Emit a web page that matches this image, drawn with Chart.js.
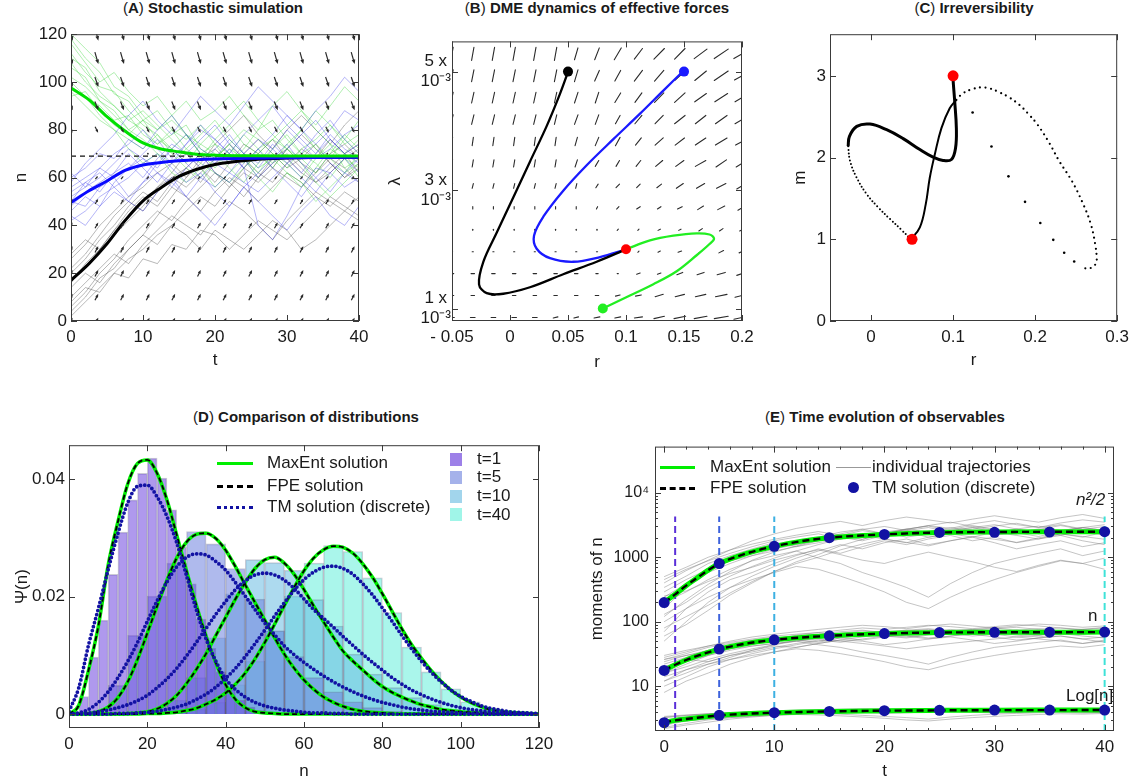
<!DOCTYPE html>
<html>
<head>
<meta charset="utf-8">
<script src="https://cdn.jsdelivr.net/npm/chart.js@4.4.1/dist/chart.umd.min.js"></script>
<style>
  body { margin: 0; background: #fff; font-family: "Liberation Sans", Arial, sans-serif; color: #1a1a1a; }
  #page { position: relative; width: 1135px; height: 782px; overflow: hidden; }
  canvas { position: absolute; }
  .title { position: absolute; font-size: 15px; line-height: 18px; font-weight: bold; white-space: nowrap; transform: translateX(-50%); }
  .title span { font-weight: normal; }
  .lbl { position: absolute; font-size: 17px; line-height: 20px; white-space: nowrap; }
  .key { position: absolute; height: 0; }
  .swatch { position: absolute; width: 12px; height: 13px; }
  .dot { position: absolute; width: 11px; height: 11px; border-radius: 50%; background: #1212a3; }
</style>
</head>
<body>
<div id="page">
  <canvas id="chartA" width="380" height="362" style="left:0;top:20px"></canvas>
  <canvas id="chartB" width="380" height="362" style="left:380px;top:20px"></canvas>
  <canvas id="chartC" width="375" height="362" style="left:760px;top:20px"></canvas>
  <canvas id="chartD" width="560" height="351" style="left:0;top:431px"></canvas>
  <canvas id="chartE" width="575" height="351" style="left:560px;top:431px"></canvas>

  <div class="title" style="left:213px;top:-1px"><span>(</span>A<span>)</span> Stochastic simulation</div>
  <div class="title" style="left:597px;top:-1px"><span>(</span>B<span>)</span> DME dynamics of effective forces</div>
  <div class="title" style="left:974px;top:-1px"><span>(</span>C<span>)</span> Irreversibility</div>
  <div class="title" style="left:306px;top:408px"><span>(</span>D<span>)</span> Comparison of distributions</div>
  <div class="title" style="left:885px;top:408px"><span>(</span>E<span>)</span> Time evolution of observables</div>

  <!-- legend D -->
  <div class="key" style="left:217px;top:462px;width:36px;border-top:3px solid #00ee00"></div>
  <div class="key" style="left:217px;top:485px;width:36px;border-top:3px dashed #000"></div>
  <div class="key" style="left:217px;top:506px;width:36px;border-top:3px dotted #1212a3"></div>
  <div class="lbl" style="left:267px;top:453px">MaxEnt solution</div>
  <div class="lbl" style="left:267px;top:476px">FPE solution</div>
  <div class="lbl" style="left:267px;top:497px">TM solution (discrete)</div>
  <div class="swatch" style="left:450px;top:453px;background:#9d80e8"></div>
  <div class="swatch" style="left:450px;top:471px;background:#a5b2ea"></div>
  <div class="swatch" style="left:450px;top:490px;background:#a2d5ec"></div>
  <div class="swatch" style="left:450px;top:508px;background:#a0f5e8"></div>
  <div class="lbl" style="left:477px;top:449px">t=1</div>
  <div class="lbl" style="left:477px;top:467px">t=5</div>
  <div class="lbl" style="left:477px;top:486px">t=10</div>
  <div class="lbl" style="left:477px;top:505px">t=40</div>

  <!-- legend E -->
  <div class="key" style="left:660px;top:466px;width:35px;border-top:3px solid #00ee00"></div>
  <div class="key" style="left:660px;top:487px;width:35px;border-top:3px dashed #000"></div>
  <div class="key" style="left:836px;top:467px;width:35px;border-top:1px solid #999"></div>
  <div class="dot" style="left:848px;top:482px"></div>
  <div class="lbl" style="left:710px;top:457px">MaxEnt solution</div>
  <div class="lbl" style="left:710px;top:478px">FPE solution</div>
  <div class="lbl" style="left:872px;top:457px">individual trajectories</div>
  <div class="lbl" style="left:872px;top:478px">TM solution (discrete)</div>
  <div class="lbl" style="left:1076px;top:490px;font-style:italic">n²/2</div>
  <div class="lbl" style="left:1088px;top:606px">n</div>
  <div class="lbl" style="left:1066px;top:686px">Log[n]</div>
</div>

<script>
// ---------- (A) stochastic simulation ----------
const runTimes = [0,2,4,6,8,10,12,14,16,18,20,22,24,26,28,30,32,34,36,38,40];
const meanTimes = [0,2.5,5,7.5,10,12.5,15,17.5,20,25,30,35,40];
const meanGreen = [97.5,92.5,85.5,79.5,74.5,72,70.8,69.8,69.4,69.1,69,69,69];
const meanBlue = [49.6,54.5,58.6,63,65.3,66.3,67,67.5,67.8,68.1,68.3,68.4,68.5];
const meanBlack = [17,24,32.3,42,50.3,55.8,60.5,63.5,65.5,67.4,68.2,68.4,68.5];
const nStationary = 69;

const greenRuns = [
  [118,110,104,95,92,84,88,80,76,82,74,70,78,72,66,74,80,72,68,76,70],
  [106,102,92,88,80,84,76,72,78,70,64,72,68,62,70,66,60,68,74,64,68],
  [98,94,90,84,86,78,74,80,72,68,76,82,74,70,64,72,68,62,70,78,72],
  [112,104,98,96,88,82,78,72,66,74,70,64,58,66,72,78,70,66,60,68,64],
  [96,90,84,80,76,72,78,70,64,60,68,74,80,76,70,64,72,76,82,74,78],
  [120,114,108,98,94,86,80,84,78,70,74,66,72,80,84,76,70,74,68,62,70],
  [102,98,92,86,80,76,70,66,72,78,84,76,70,64,68,62,56,64,72,68,60],
  [110,106,96,90,84,80,74,78,82,72,68,74,66,72,76,82,88,80,74,70,76],
  [116,108,100,104,96,90,94,86,92,84,88,94,86,80,90,96,88,82,90,98,92],
  [100,94,86,80,72,66,70,62,58,64,56,62,68,60,54,62,58,50,56,62,66],
  [108,100,94,90,84,88,82,76,70,66,62,58,64,70,76,72,66,58,52,58,64],
  [94,96,88,82,78,84,80,86,78,74,80,86,92,84,78,72,80,88,82,76,84]
];
const blueRuns = [
  [48,54,58,62,66,60,68,74,70,64,72,78,70,66,74,68,62,70,76,70,66],
  [56,60,64,70,74,80,72,66,70,76,82,74,68,60,66,72,78,84,76,70,74],
  [42,46,52,56,50,58,62,56,64,70,62,58,66,72,64,58,52,60,66,62,68],
  [60,64,70,68,76,72,80,86,78,72,68,76,70,64,72,80,74,68,72,78,82],
  [50,48,56,60,64,68,62,58,52,60,66,72,64,40,34,44,56,64,62,56,60],
  [46,52,48,58,64,70,76,68,74,80,76,70,78,84,90,82,76,70,78,72,68],
  [54,58,62,56,60,66,70,64,58,62,54,48,56,62,68,74,66,60,54,62,58],
  [52,56,60,66,72,68,64,72,78,70,66,62,70,76,72,66,70,78,84,76,70],
  [58,66,72,78,86,92,84,78,86,94,88,82,90,98,92,86,80,88,94,102,96],
  [44,40,48,54,50,46,54,60,52,46,40,48,56,50,44,38,46,52,44,40,48],
  [50,58,54,62,70,64,58,66,74,82,76,70,64,72,78,86,80,74,80,88,84],
  [62,56,64,60,52,58,66,72,66,60,56,62,58,54,60,66,60,54,62,68,62]
];
const blackRuns = [
  [16,24,30,38,44,50,56,60,64,58,66,70,64,60,68,72,66,62,70,74,68],
  [6,12,20,26,34,40,46,42,50,56,62,58,52,60,66,70,64,58,62,68,72],
  [26,32,40,46,52,56,62,66,60,68,72,66,70,76,70,64,68,74,66,60,64],
  [10,16,22,28,24,32,38,44,40,36,44,50,46,40,34,42,48,54,50,46,52],
  [20,26,34,40,48,54,50,58,64,70,62,56,64,70,76,68,62,58,64,70,62],
  [2,8,14,20,26,30,36,40,46,52,48,56,62,58,64,60,56,62,68,64,58],
  [14,20,16,24,30,36,32,40,36,30,38,34,30,36,42,38,30,34,40,46,42],
  [22,28,36,44,50,46,54,60,56,62,68,74,68,62,58,66,72,68,76,70,74],
  [4,10,18,22,30,36,44,52,60,66,74,80,86,78,72,80,86,80,74,82,88],
  [28,34,30,38,46,52,48,56,52,46,54,60,56,50,56,62,58,52,48,54,50],
  [8,14,12,20,18,26,24,32,30,38,36,30,36,42,38,34,40,46,52,48,44],
  [18,22,30,36,42,48,56,62,70,64,58,66,74,70,64,72,78,72,66,60,66]
];
// drift arrows: one column per t, one row per n (arrow size read per row)
const arrowColsA = [0,3.56,7.12,10.68,14.24,17.8,21.36,24.92,28.48,32.04,35.6,39.16];
const arrowRowsA = [0,10,20,30,40,50,60,70,80,90,100,110,120];
const arrowDtA = [0.45,0.45,0.45,0.45,0.45,0.42,0.35,0.14,0.42,0.48,0.48,0.48,0.48];
const arrowDnA = [2.7,2.7,2.7,2.6,2.4,2.1,1.3,-0.2,-2.5,-3.7,-4.2,-5.0,-5.4];

// ---------- (B) effective forces ----------
const blackPathR = [0.0503,0.043,0.0316,0.0172,0.0029,-0.0115,-0.023,-0.0267,-0.0201,-0.0058,0.0172,0.0459,0.0747,0.1];
const blackPathL = [0.00501,0.00462,0.00408,0.00348,0.00288,0.00228,0.00179,0.00141,0.00126,0.00125,0.00136,0.00158,0.00179,0.002];
const bluePathR = [0.1494,0.1322,0.1121,0.0891,0.0661,0.0459,0.0287,0.0207,0.023,0.0345,0.0546,0.0776,0.1];
const bluePathL = [0.00501,0.00468,0.00429,0.00386,0.00342,0.00299,0.00255,0.00223,0.00201,0.00185,0.00179,0.00187,0.002];
const greenPathR = [0.08,0.1034,0.1236,0.1437,0.1609,0.172,0.1759,0.172,0.1609,0.1408,0.1207,0.1];
const greenPathL = [0.001,0.00122,0.00141,0.00163,0.0019,0.00209,0.00218,0.00225,0.00227,0.00223,0.00215,0.002];
const startR = [0.05,0.15,0.08];
const startL = [0.005,0.005,0.001];
const fixedR = [0.1];
const fixedL = [0.002];
// force field: components in units of 0.001 (r) and 0.00002 (lambda), rows bottom to top
const fieldColsB = [-0.05,-0.0321,-0.0143,0.0036,0.0214,0.0393,0.0571,0.075,0.0929,0.1107,0.1286,0.1464,0.1643,0.1821,0.2];
const fieldRowsB = [0.00085,0.00122,0.00159,0.00196,0.00233,0.0027,0.00307,0.00345,0.00382,0.00419,0.00456,0.00493,0.0053];
const fieldDrB = [
  [4,4,4,4,4,4,4,5,5,7,9,10,11,12,14],
  [3,3,3,3,3,3,3,3,4,5,7,8,9,10,12],
  [3,3,3,3,3,3,3,2,1,3,3,5,6,7,9],
  [1,1,1,1,1,1,1,1,1,1,2,3,3,4,5],
  [0,0,0,0,0,0,0,0,1,1,2,2,3,3,4],
  [0,0,0,0,0,0,0,1,2,3,3,4,5,6,7],
  [1,1,1,1,1,1,1,2,3,3,4,6,7,8,9],
  [1,1,1,1,1,1,2,3,3,4,6,7,9,9,10],
  [1,1,1,1,1,1,2,3,4,5,7,8,9,10,11],
  [2,2,2,2,2,2,3,3,4,6,7,9,9,10,12],
  [2,2,2,2,2,2,3,3,5,6,8,9,10,11,12],
  [2,2,2,2,2,2,3,4,5,7,8,9,10,12,13],
  [2,2,2,2,2,2,3,4,6,7,9,9,11,12,14]
];
const fieldDlB = [
  [0,0,0,0,0,1,1,1,1,1,2,2,2,2,3],
  [0,0,0,0,0,0,0,0,1,1,2,2,2,2,3],
  [0,0,0,0,0,0,0,0,0,1,1,2,2,2,3],
  [0,0,0,0,0,0,0,0,0,1,1,1,2,2,2],
  [1,1,1,1,1,1,1,1,1,1,1,1,2,2,2],
  [2,2,2,2,2,2,2,2,2,2,2,2,3,3,4],
  [4,4,4,4,4,4,4,3,3,3,3,4,4,4,5],
  [6,6,6,6,6,6,6,5,5,5,5,5,5,6,6],
  [7,7,7,7,7,7,7,7,7,6,6,6,6,6,6],
  [8,8,8,8,8,8,8,8,7,7,7,7,7,7,7],
  [9,9,9,9,9,9,9,9,8,8,8,8,7,7,7],
  [10,10,10,10,10,10,10,9,9,9,9,8,8,8,7],
  [11,11,11,11,11,11,10,10,10,9,9,9,8,8,8]
];
const fieldUnitR = 0.001, fieldUnitL = 0.00002;

// ---------- (C) irreversibility ----------
const fwdSolidR = [0.0485,0.0595,0.0667,0.0716,0.0777,0.0858,0.0959,0.104];
const fwdSolidM = [1.0,1.146,1.43,1.753,2.038,2.361,2.604,2.706];
const fwdLoopR = [0.104,0.112,0.1242,0.1343,0.1444,0.1566,0.1687,0.1808,0.1909,0.203,0.2172,0.2294,0.2448,0.2577,0.2678,0.2731,0.2751,0.2739,0.2698,0.264,0.2569];
const fwdLoopM = [2.706,2.786,2.84,2.859,2.847,2.798,2.734,2.645,2.543,2.402,2.179,1.956,1.713,1.45,1.187,0.944,0.762,0.701,0.66,0.64,0.66];
const fwdSparseR = [0.2476,0.2354,0.2221,0.2063,0.1877,0.1675,0.1468,0.1238];
const fwdSparseM = [0.729,0.835,0.993,1.199,1.458,1.77,2.135,2.552];
const backSolidR = [0.1,0.1,0.102,0.104,0.103,0.098,0.0878,0.0756,0.0595,0.0392,0.019,-0.0012,-0.0174,-0.0263,-0.0279];
const backSolidM = [3.0,2.95,2.685,2.36,2.118,1.977,1.965,2.005,2.098,2.232,2.341,2.41,2.382,2.26,2.139];
const backDotR = [-0.0279,-0.0255,-0.0174,-0.0052,0.0089,0.0231,0.0372,0.0485];
const backDotM = [2.139,1.956,1.753,1.552,1.389,1.248,1.114,1.0];
const endR = [0.05,0.1];
const endM = [1,3];

// ---------- (D) distributions ----------
const densityN = [0,2.5,5,7.5,10,12.5,15,17.5,20,22.5,25,27.5,30,32.5,35,37.5,40,42.5,45,47.5,50,52.5,55,57.5,60,62.5,65,67.5,70,72.5,75,77.5,80,82.5,85,87.5,90,92.5,95,97.5,100,102.5,105,107.5,110,112.5,115,117.5,120];
const fpeT1 = [0,0.0015,0.0075,0.015,0.0254,0.0328,0.0392,0.0427,0.0433,0.041,0.0365,0.0305,0.0244,0.0186,0.0133,0.0087,0.005,0.0025,0.0011,0.0004,0.0002,0.0001,
  0,0,0,0,0,0,0,0,0,0,0,0,0,0,0,0,0,0,0,0,0,0,0,0,0,0,0];
const fpeT5 = [0,0,0.0001,0.0004,0.0012,0.0028,0.0055,0.0093,0.0138,0.0184,0.0228,0.0266,0.0293,0.0306,0.0308,0.0299,0.0279,0.0251,0.022,0.019,0.016,0.013,0.0102,0.0078,0.0058,0.0042,0.0029,0.002,0.0013,0.0008,0.0005,0.0003,0.0002,0.0001,
  0,0,0,0,0,0,0,0,0,0,0,0,0,0,0];
const fpeT10 = [0,0,0,0,0,0,0.0001,0.0002,0.0004,0.0009,0.0018,0.0032,0.0052,0.0076,0.0103,0.0134,0.0165,0.0196,0.0224,0.0248,0.0263,0.0267,0.0257,0.0238,0.0212,0.0184,0.0157,0.0131,0.0107,0.009,0.0075,0.006,0.0047,0.0037,0.0029,0.0022,0.0016,0.0012,0.0008,0.0006,0.0004,0.0003,0.0002,0.0001,
  0,0,0,0,0];
const fpeT40 = [0,0,0,0,0,0,0,0,0.0001,0.0001,0.0002,0.0003,0.0006,0.001,0.0017,0.0025,0.0036,0.0051,0.007,0.0094,0.0122,0.0153,0.0185,0.0216,0.0244,0.0266,0.028,0.0286,0.0284,0.0274,0.0256,0.0233,0.0205,0.0175,0.0145,0.0118,0.0095,0.0074,0.0056,0.0041,0.0029,0.002,0.0013,0.0008,0.0005,0.0003,0.0002,0.0001,0];
const tmT1 = [0.0005,0.0045,0.0118,0.018,0.0246,0.0308,0.036,0.0388,0.039,0.037,0.0337,0.0292,0.0236,0.0178,0.0128,0.009,0.006,0.0042,0.0029,0.002,0.0014,0.001,0.0007,0.0005,0.0003,0.0002,0.0002,0.0001,0.0001,
  0,0,0,0,0,0,0,0,0,0,0,0,0,0,0,0,0,0,0,0];
const tmT5 = [0,0.0002,0.0008,0.002,0.0038,0.0062,0.009,0.0122,0.0158,0.0193,0.0225,0.0251,0.0267,0.0273,0.0271,0.026,0.0245,0.0224,0.0201,0.0178,0.0155,0.0135,0.0116,0.0101,0.0088,0.0076,0.0065,0.0055,0.0046,0.0038,0.0031,0.0025,0.002,0.0016,0.0012,0.0009,0.0007,0.0005,0.0004,0.0003,0.0002,0.0001,0.0001,
  0,0,0,0,0,0];
const tmT10 = [0,0.0001,0.0002,0.0004,0.0007,0.0011,0.0016,0.0023,0.0032,0.0045,0.006,0.0078,0.0099,0.0122,0.0146,0.017,0.0192,0.0212,0.0227,0.0237,0.024,0.0237,0.0228,0.0214,0.0196,0.0178,0.0163,0.0148,0.0132,0.0117,0.0102,0.0088,0.0075,0.0062,0.0051,0.0041,0.0033,0.0026,0.002,0.0015,0.0011,0.0008,0.0006,0.0004,0.0003,0.0002,0.0001,0.0001,0];
const tmT40 = [0,0,0,0,0,0.0001,0.0001,0.0002,0.0003,0.0005,0.0008,0.0012,0.0017,0.0025,0.0034,0.0046,0.0061,0.0078,0.0098,0.012,0.0143,0.0167,0.019,0.0211,0.0229,0.0242,0.025,0.0252,0.0248,0.0238,0.0222,0.0203,0.0181,0.0158,0.0134,0.0111,0.009,0.0071,0.0055,0.0041,0.003,0.0022,0.0015,0.001,0.0007,0.0004,0.0003,0.0002,0.0001];
const histBinsFine = [1.25,3.75,6.25,8.75,11.25,13.75,16.25,18.75,21.25,23.75,26.25,28.75,31.25,33.75,36.25,38.75,41.25,43.75,46.25,48.75,51.25,53.75];
const histT1 = [0.0004,0.003,0.0097,0.016,0.0238,0.031,0.0365,0.041,0.0436,0.0402,0.0348,0.0285,0.0222,0.0162,0.0112,0.0072,0.0042,0.0024,0.0012,0.0006,0.0003,0.0001];
const histBins = [2.5,7.5,12.5,17.5,22.5,27.5,32.5,37.5,42.5,47.5,52.5,57.5,62.5,67.5,72.5,77.5,82.5,87.5,92.5,97.5,102.5,107.5,112.5,117.5];
const histT5 = [0,0.0004,0.0049,0.0134,0.0201,0.0257,0.0311,0.029,0.0248,0.0196,0.0142,0.0098,0.0062,0.0038,0.0021,0.0011,0.0005,0.0002,0,0,0,0,0,0];
const histT10 = [0,0,0,0,0.0006,0.0024,0.0062,0.013,0.0205,0.0263,0.0258,0.0245,0.0195,0.015,0.0102,0.0068,0.0045,0.0028,0.0016,0.0008,0.0004,0.0002,0,0];
const histT40 = [0,0,0,0,0,0.0003,0.0008,0.002,0.005,0.009,0.0142,0.0201,0.0257,0.0287,0.0277,0.0232,0.0173,0.0114,0.0072,0.0043,0.0021,0.0009,0.0003,0.0001];

// ---------- (E) observables ----------
const fitTimes = [0,1,2,3,4,5,7.5,10,12.5,15,20,25,30,35,40];
const maxEntSecond = [198,266,363,479,631,798,1150,1477,1780,2010,2261,2420,2460,2480,2490];
const maxEntMean = [17.6,21.5,25.5,29.5,33.5,37.6,46,52.4,57,60.4,65.6,68,68.6,68.8,69];
const maxEntLog = [2.75,2.95,3.1,3.24,3.39,3.53,3.74,3.88,3.99,4.07,4.17,4.22,4.25,4.26,4.27];
const tmTimes = [0,5,10,15,20,25,30,35,40];
const tmSecond = [198,798,1477,2010,2261,2428,2440,2460,2490];
const tmMean = [17.6,37.6,52.4,60.4,65.6,68,68.6,68.8,69];
const tmLog = [2.72,3.53,3.88,4.07,4.17,4.22,4.27,4.27,4.27];
const snapshotTimes = [1,5,10,40];
const snapshotTop = 4300;
const secondRuns = [
  [160,340,580,800,1060,1350,1570,1800,2050,1800,2180,2450,2050,2310,2590,2180,2450,2740,2310,2050,2450],
  [70,160,290,450,580,800,1060,1350,1150,1460,1800,1570,1920,2180,1800,2050,1680,1920,2180,1800,1570],
  [340,510,800,1060,1350,1680,1460,1800,2180,2590,2310,2740,2450,2890,2590,2310,2740,3040,2590,2890,3200],
  [200,290,450,650,880,1060,1250,970,800,580,450,340,240,390,580,800,970,1150,1350,1060,1250],
  [130,200,340,510,720,970,1250,1570,1920,2180,2450,2740,3040,2590,2890,2450,2740,2310,2590,2890,2590],
  [450,650,880,1150,1460,1800,2050,2310,1920,2180,2450,2050,2310,2590,2890,3200,2740,2450,2180,2590,2310],
  [50,100,200,340,510,720,970,1250,1570,1350,1680,1920,1570,1800,2050,1680,1350,1570,1800,1460,1680],
  [240,390,650,880,1150,1460,1800,2050,2450,2740,2310,2590,2890,2450,2740,3040,3360,2890,3200,2740,2450],
  [100,160,240,340,450,580,720,650,510,390,290,200,160,240,340,450,580,720,880,800,970],
  [290,450,650,880,1060,1250,1460,1680,1920,2180,1920,1680,2050,2310,2050,2450,2180,1920,2310,2590,2180],
  [400,620,900,1300,1800,2300,2800,3200,3600,3100,3700,4200,3800,3400,3900,4400,3900,3500,4100,4600,4000],
  [60,90,150,260,400,600,850,1100,1500,1900,2300,2700,3100,2800,3300,3700,3200,2900,3400,3800,3500],
  [250,300,420,560,700,900,1100,1300,1100,900,800,1000,1200,1000,850,700,600,750,900,800,650],
  [120,220,380,600,900,1200,1500,1900,2300,2700,3000,2600,2300,2700,3100,2700,2400,2100,2500,2900,2600],
  [500,700,1000,1300,1600,1900,2200,2500,2200,1900,2300,2700,3100,3500,3000,2600,2300,2700,3100,2700,3000],
  [80,120,180,280,420,600,800,1000,1300,1600,1900,1700,1500,1800,2100,1900,1700,2000,2300,2100,1900]
];
const meanRuns = [
  [18,26,34,40,46,52,56,60,64,60,66,70,64,68,72,66,70,74,68,64,70],
  [12,18,24,30,34,40,46,52,48,54,60,56,62,66,60,64,58,62,66,60,56],
  [26,32,40,46,52,58,54,60,66,72,68,74,70,76,72,68,74,78,72,76,80],
  [20,24,30,36,42,46,50,44,40,34,30,26,22,28,34,40,44,48,52,46,50],
  [16,20,26,32,38,44,50,56,62,66,70,74,78,72,76,70,74,68,72,76,72],
  [30,36,42,48,54,60,64,68,62,66,70,64,68,72,76,80,74,70,66,72,68],
  [10,14,20,26,32,38,44,50,56,52,58,62,56,60,64,58,52,56,60,54,58],
  [22,28,36,42,48,54,60,64,70,74,68,72,76,70,74,78,82,76,80,74,70],
  [14,18,22,26,30,34,38,36,32,28,24,20,18,22,26,30,34,38,42,40,44],
  [24,30,36,42,46,50,54,58,62,66,62,58,64,68,64,70,66,62,68,72,66],
  [28,34,42,50,58,64,70,76,82,88,84,78,86,92,86,80,86,92,88,82,86],
  [8,12,16,22,28,34,40,46,52,58,64,60,54,60,66,72,68,62,68,74,70],
  [20,26,24,30,36,42,40,46,52,50,44,48,54,58,52,46,50,56,60,54,48],
  [16,22,30,38,46,54,62,68,74,80,76,82,88,84,78,84,90,86,80,76,82],
  [12,16,22,28,36,44,52,48,56,62,58,64,70,66,72,68,62,58,64,70,76],
  [26,30,34,38,42,46,50,54,50,46,42,38,42,46,50,54,58,54,50,46,52]
];
const logRuns = [
  [2.9,3.26,3.53,3.69,3.83,3.95,4.03,4.09,4.16,4.09,4.19,4.25,4.16,4.22,4.28,4.19,4.25,4.3,4.22,4.16,4.25],
  [2.48,2.89,3.18,3.4,3.53,3.69,3.83,3.95,3.87,3.99,4.09,4.03,4.13,4.19,4.09,4.16,4.06,4.13,4.19,4.09,4.03],
  [3.26,3.47,3.69,3.83,3.95,4.06,3.99,4.09,4.19,4.28,4.22,4.3,4.25,4.33,4.28,4.22,4.3,4.36,4.28,4.33,4.38],
  [3.0,3.18,3.4,3.58,3.74,3.83,3.91,3.78,3.69,3.53,3.4,3.26,3.09,3.33,3.53,3.69,3.78,3.87,3.95,3.83,3.91],
  [2.77,3.0,3.26,3.47,3.64,3.78,3.91,4.03,4.13,4.19,4.25,4.3,4.36,4.28,4.33,4.25,4.3,4.22,4.28,4.33,4.28],
  [3.4,3.58,3.74,3.87,3.99,4.09,4.16,4.22,4.13,4.19,4.25,4.16,4.22,4.28,4.33,4.38,4.3,4.25,4.19,4.28,4.22],
  [2.3,2.64,3.0,3.26,3.47,3.64,3.78,3.91,4.03,3.95,4.06,4.13,4.03,4.09,4.16,4.06,3.95,4.03,4.09,3.99,4.06],
  [2.64,2.89,3.09,3.26,3.4,3.53,3.64,3.58,3.47,3.33,3.18,3.0,2.89,3.09,3.26,3.4,3.53,3.64,3.74,3.69,3.78],
  [3.3,3.53,3.74,3.91,4.06,4.16,4.25,4.33,4.41,4.48,4.43,4.36,4.45,4.52,4.45,4.38,4.45,4.52,4.48,4.41,4.45],
  [2.2,2.5,2.77,3.09,3.33,3.53,3.69,3.83,3.95,4.06,4.16,4.09,4.0,4.09,4.19,4.28,4.22,4.13,4.22,4.3,4.25],
  [3.0,3.26,3.18,3.4,3.58,3.74,3.69,3.83,3.95,3.91,3.78,3.87,3.99,4.06,3.95,3.83,3.91,4.03,4.09,3.99,3.87],
  [2.77,3.09,3.4,3.64,3.83,3.99,4.13,4.22,4.3,4.38,4.33,4.41,4.48,4.43,4.36,4.43,4.5,4.45,4.38,4.33,4.41]
];

// ---------- tick labels ----------
const ticksA_x = [0,10,20,30,40], labelsA_x = ['0','10','20','30','40'];
const ticksA_y = [0,20,40,60,80,100,120], labelsA_y = ['0','20','40','60','80','100','120'];
const ticksB_x = [-0.05,0,0.05,0.1,0.15,0.2], labelsB_x = ['- 0.05','0','0.05','0.1','0.15','0.2'];
const ticksB_y = [0.001,0.003,0.005], labelsB_y = [['1 x','10\u207B\u00B3'],['3 x','10\u207B\u00B3'],['5 x','10\u207B\u00B3']];
const ticksC_x = [0,0.1,0.2,0.3], labelsC_x = ['0','0.1','0.2','0.3'];
const ticksC_y = [0,1,2,3], labelsC_y = ['0','1','2','3'];
const ticksD_x = [0,20,40,60,80,100,120], labelsD_x = ['0','20','40','60','80','100','120'];
const ticksD_y = [0,0.02,0.04], labelsD_y = ['0','0.02','0.04'];
const ticksE_x = [0,10,20,30,40], labelsE_x = ['0','10','20','30','40'];
const ticksE_y = [10,100,1000,10000], labelsE_y = ['10','100','1000','10\u2074'];

// ---------- helpers ----------
Chart.defaults.font.family = '"Liberation Sans", Arial, sans-serif';
Chart.defaults.font.size = 17;
Chart.defaults.color = '#1a1a1a';
Chart.defaults.animation = false;
Chart.defaults.plugins.legend.display = false;
Chart.defaults.plugins.tooltip.enabled = false;

const GREEN = '#00ee00', TMBLUE = '#1212a3';

function zip(xs, ys) {
  return xs.map((x, i) => ({x: x, y: ys[i]}));
}

function line(xs, ys, color, width, extra) {
  return Object.assign({
    type: 'line', data: zip(xs, ys), borderColor: color, borderWidth: width,
    pointRadius: 0, fill: false, tension: 0
  }, extra || {});
}

function dots(xs, ys, color, radius, extra) {
  return Object.assign({
    type: 'line', data: zip(xs, ys), showLine: false, pointRadius: radius,
    pointBackgroundColor: color, pointBorderColor: color, pointBorderWidth: 0
  }, extra || {});
}

function axis(o) {
  return {
    type: o.type || 'linear',
    min: o.min, max: o.max,
    offset: false,
    grid: {display: false, drawTicks: false},
    border: {display: false},
    afterBuildTicks: s => { s.ticks = o.ticks.map(v => ({value: v})); },
    afterFit: s => { if (s.isHorizontal()) s.height = o.size; else s.width = o.size; },
    ticks: {
      autoSkip: false, maxRotation: 0, minRotation: 0,
      padding: o.tickPad, crossAlign: o.crossAlign || 'near',
      font: {size: o.tickSize || 17},
      callback: (v, i) => o.labels[i]
    },
    title: {display: true, text: o.title, padding: o.titlePad, font: {size: 17}}
  };
}

// box frame with inward ticks on all four sides
const framePlugin = {
  id: 'frame',
  afterDatasetsDraw(chart, args, opts) {
    const {ctx, chartArea: a} = chart;
    const xs = chart.scales.x, ys = chart.scales.y;
    ctx.save();
    ctx.strokeStyle = '#3a3a3a';
    ctx.lineWidth = 1;
    ctx.strokeRect(a.left + 0.5, a.top + 0.5, a.right - a.left - 1, a.bottom - a.top - 1);
    const seg = (x0, y0, x1, y1) => { ctx.beginPath(); ctx.moveTo(x0, y0); ctx.lineTo(x1, y1); ctx.stroke(); };
    const tickX = (v, len) => {
      const p = Math.round(xs.getPixelForValue(v)) + 0.5;
      seg(p, a.bottom, p, a.bottom - len); seg(p, a.top, p, a.top + len);
    };
    const tickY = (v, len) => {
      const p = Math.round(ys.getPixelForValue(v)) + 0.5;
      seg(a.left, p, a.left + len, p); seg(a.right, p, a.right - len, p);
    };
    xs.ticks.forEach(t => tickX(t.value, 6));
    ys.ticks.forEach(t => tickY(t.value, 6));
    if (opts.minorX) {
      for (let v = Math.ceil(xs.min / opts.minorX) * opts.minorX; v <= xs.max; v += opts.minorX) tickX(v, 3);
    }
    if (opts.logMinorY) {
      for (let p = 1; p < 5; p++) for (let k = 2; k < 10; k++) {
        const v = k * Math.pow(10, p - 1);
        if (v > ys.min && v < ys.max) tickY(v, 3);
      }
    }
    ctx.restore();
  }
};

function drawArrow(ctx, x0, y0, x1, y1) {
  const dx = x1 - x0, dy = y1 - y0, len = Math.hypot(dx, dy);
  if (len < 2) {
    ctx.beginPath(); ctx.arc((x0 + x1) / 2, (y0 + y1) / 2, 0.9, 0, Math.PI * 2); ctx.fill();
    return;
  }
  const ux = dx / len, uy = dy / len;
  const head = Math.min(4.5, len * 0.5), hw = head * 0.42;
  ctx.beginPath(); ctx.moveTo(x0, y0); ctx.lineTo(x1 - ux * head * 0.7, y1 - uy * head * 0.7); ctx.stroke();
  ctx.beginPath();
  ctx.moveTo(x1, y1);
  ctx.lineTo(x1 - ux * head - uy * hw, y1 - uy * head + ux * hw);
  ctx.lineTo(x1 - ux * head + uy * hw, y1 - uy * head - ux * hw);
  ctx.closePath(); ctx.fill();
}

const driftArrowsA = {
  id: 'driftArrows',
  afterDatasetsDraw(chart) {
    const {ctx, chartArea: a, scales: {x, y}} = chart;
    ctx.save();
    ctx.beginPath(); ctx.rect(a.left, a.top, a.right - a.left, a.bottom - a.top); ctx.clip();
    ctx.strokeStyle = '#2a2a2a'; ctx.fillStyle = '#2a2a2a'; ctx.lineWidth = 1.2;
    arrowColsA.forEach(t => {
      arrowRowsA.forEach((n, i) => {
        drawArrow(ctx,
          x.getPixelForValue(t - arrowDtA[i] / 2), y.getPixelForValue(n - arrowDnA[i] / 2),
          x.getPixelForValue(t + arrowDtA[i] / 2), y.getPixelForValue(n + arrowDnA[i] / 2));
      });
    });
    ctx.restore();
  }
};

const forceFieldB = {
  id: 'forceField',
  beforeDatasetsDraw(chart) {
    const {ctx, chartArea: a, scales: {x, y}} = chart;
    ctx.save();
    ctx.beginPath(); ctx.rect(a.left, a.top, a.right - a.left, a.bottom - a.top); ctx.clip();
    ctx.strokeStyle = '#2b2b2b'; ctx.lineWidth = 1.1; ctx.lineCap = 'round';
    fieldRowsB.forEach((lam, j) => {
      fieldColsB.forEach((r, k) => {
        const dr = fieldDrB[j][k] * fieldUnitR / 2, dl = fieldDlB[j][k] * fieldUnitL / 2;
        let x0 = x.getPixelForValue(r - dr), y0 = y.getPixelForValue(lam - dl);
        let x1 = x.getPixelForValue(r + dr), y1 = y.getPixelForValue(lam + dl);
        if (Math.hypot(x1 - x0, y1 - y0) < 1) { x0 -= 0.6; x1 += 0.6; }
        ctx.beginPath(); ctx.moveTo(x0, y0); ctx.lineTo(x1, y1); ctx.stroke();
      });
    });
    ctx.restore();
  }
};

// ---------- chart A ----------
const datasetsA = [
  line(meanTimes, meanGreen, '#00e000', 3, {cubicInterpolationMode: 'monotone', order: 1}),
  line(meanTimes, meanBlue, '#0a0aff', 3, {cubicInterpolationMode: 'monotone', order: 1}),
  line(meanTimes, meanBlack, '#000', 3, {cubicInterpolationMode: 'monotone', order: 1}),
  line([0, 40], [nStationary, nStationary], '#111', 1.2, {borderDash: [5, 4], order: 2})
];
greenRuns.forEach(r => datasetsA.push(line(runTimes, r, 'rgba(60,215,60,0.4)', 1, {order: 5})));
blueRuns.forEach(r => datasetsA.push(line(runTimes, r, 'rgba(30,30,230,0.33)', 1, {order: 4})));
blackRuns.forEach(r => datasetsA.push(line(runTimes, r, 'rgba(40,40,40,0.33)', 1, {order: 6})));

new Chart(document.getElementById('chartA'), {
  type: 'line',
  data: {datasets: datasetsA},
  options: {
    responsive: false,
    layout: {padding: {top: 12, right: 21, left: 0, bottom: 0}},
    scales: {
      x: axis({min: 0, max: 40, ticks: ticksA_x, labels: labelsA_x, size: 61, tickPad: 6, title: 't', titlePad: {top: 0, bottom: 11.8}}),
      y: axis({min: 0, max: 120, ticks: ticksA_y, labels: labelsA_y, size: 71, tickPad: 4, title: 'n', titlePad: {top: 11.5, bottom: 0}})
    },
    plugins: {frame: {}}
  },
  plugins: [driftArrowsA, framePlugin]
});

// ---------- chart B ----------
new Chart(document.getElementById('chartB'), {
  type: 'line',
  data: {datasets: [
    dots(fixedR, fixedL, '#ff0000', 5, {order: 0}),
    dots(startR, startL, ['#000000', '#1a1aff', '#22ee22'], 5, {order: 0}),
    line(blackPathR, blackPathL, '#000', 2.3, {tension: 0.35, order: 2}),
    line(bluePathR, bluePathL, '#1a1aff', 2.3, {tension: 0.35, order: 2}),
    line(greenPathR, greenPathL, '#22ee22', 2.3, {tension: 0.35, order: 2})
  ]},
  options: {
    responsive: false,
    layout: {padding: {top: 12, right: 18, left: 0, bottom: 0}},
    scales: {
      x: axis({min: -0.05, max: 0.2, ticks: ticksB_x, labels: labelsB_x, size: 61, tickPad: 6, title: 'r', titlePad: {top: 0, bottom: 9.8}}),
      y: axis({min: 0.00079, max: 0.00551, ticks: ticksB_y, labels: labelsB_y, size: 72, tickPad: 1, crossAlign: 'center', title: '\u03BB', titlePad: {top: 4.8, bottom: 0}})
    },
    plugins: {frame: {}}
  },
  plugins: [forceFieldB, framePlugin]
});

// ---------- chart C ----------
new Chart(document.getElementById('chartC'), {
  type: 'line',
  data: {datasets: [
    dots(endR, endM, '#ff0000', 5.5, {order: 0}),
    line(backSolidR, backSolidM, '#000', 3, {tension: 0.4, order: 1}),
    line(fwdSolidR, fwdSolidM, '#000', 2, {tension: 0.4, order: 1}),
    line(backDotR, backDotM, '#000', 2, {tension: 0.4, borderDash: [0, 3.6], borderCapStyle: 'round', order: 2}),
    line(fwdLoopR, fwdLoopM, '#000', 2.2, {tension: 0.4, borderDash: [0, 5.5], borderCapStyle: 'round', order: 2}),
    dots(fwdSparseR, fwdSparseM, '#000', 1.3, {order: 2})
  ]},
  options: {
    responsive: false,
    layout: {padding: {top: 12, right: 17, left: 0, bottom: 0}},
    scales: {
      x: axis({min: -0.05, max: 0.3, ticks: ticksC_x, labels: labelsC_x, size: 61, tickPad: 6, title: 'r', titlePad: {top: 0, bottom: 11.8}}),
      y: axis({min: 0, max: 3.51, ticks: ticksC_y, labels: labelsC_y, size: 70, tickPad: 4, title: 'm', titlePad: {top: 29.8, bottom: 0}})
    },
    plugins: {frame: {}}
  },
  plugins: [framePlugin]
});

// ---------- chart D ----------
const tmOpts = {borderDash: [0, 4.2], borderCapStyle: 'round', cubicInterpolationMode: 'monotone', order: 1};
const fpeOpts = {borderDash: [5, 3], cubicInterpolationMode: 'monotone', order: 2};
const maxEntOpts = {cubicInterpolationMode: 'monotone', order: 3};
const barOpts = {type: 'bar', grouped: false, barPercentage: 1, categoryPercentage: 1, borderWidth: 1, borderColor: 'rgba(70,70,100,0.28)'};
new Chart(document.getElementById('chartD'), {
  type: 'bar',
  data: {datasets: [
    line(densityN, tmT1, TMBLUE, 3.8, tmOpts),
    line(densityN, tmT5, TMBLUE, 3.8, tmOpts),
    line(densityN, tmT10, TMBLUE, 3.8, tmOpts),
    line(densityN, tmT40, TMBLUE, 3.8, tmOpts),
    line(densityN, fpeT1, '#000', 1.8, fpeOpts),
    line(densityN, fpeT5, '#000', 1.8, fpeOpts),
    line(densityN, fpeT10, '#000', 1.8, fpeOpts),
    line(densityN, fpeT40, '#000', 1.8, fpeOpts),
    line(densityN, fpeT1, GREEN, 3.5, maxEntOpts),
    line(densityN, fpeT5, GREEN, 3.5, maxEntOpts),
    line(densityN, fpeT10, GREEN, 3.5, maxEntOpts),
    line(densityN, fpeT40, GREEN, 3.5, maxEntOpts),
    Object.assign({data: zip(histBinsFine, histT1), xAxisID: 'xFine', backgroundColor: 'rgba(110,70,222,0.55)', order: 4}, barOpts),
    Object.assign({data: zip(histBins, histT5), backgroundColor: 'rgba(110,130,222,0.55)', order: 5}, barOpts),
    Object.assign({data: zip(histBins, histT10), backgroundColor: 'rgba(105,188,225,0.55)', order: 6}, barOpts),
    Object.assign({data: zip(histBins, histT40), backgroundColor: 'rgba(100,238,218,0.55)', order: 7}, barOpts)
  ]},
  options: {
    responsive: false,
    layout: {padding: {top: 12, right: 21, left: 0, bottom: 0}},
    scales: {
      x: axis({min: 0, max: 120, ticks: ticksD_x, labels: labelsD_x, size: 54, tickPad: 6, title: 'n', titlePad: {top: 0, bottom: 0}}),
      xFine: {type: 'linear', min: 0, max: 120, offset: false, display: false},
      y: axis({min: -0.00237, max: 0.0458, ticks: ticksD_y, labels: labelsD_y, size: 69, tickPad: 4, title: '\u03A8(n)', titlePad: {top: 12, bottom: 0}})
    },
    plugins: {frame: {}}
  },
  plugins: [framePlugin]
});

// ---------- chart E ----------
const datasetsE = [
  dots(tmTimes, tmSecond, TMBLUE, 5.5, {order: 1}),
  dots(tmTimes, tmMean, TMBLUE, 5.5, {order: 1}),
  dots(tmTimes, tmLog, TMBLUE, 5.5, {order: 1}),
  line(fitTimes, maxEntSecond, '#000', 2.4, {borderDash: [7, 4], cubicInterpolationMode: 'monotone', order: 2}),
  line(fitTimes, maxEntMean, '#000', 2.4, {borderDash: [7, 4], cubicInterpolationMode: 'monotone', order: 2}),
  line(fitTimes, maxEntLog, '#000', 2.4, {borderDash: [7, 4], cubicInterpolationMode: 'monotone', order: 2}),
  line(fitTimes, maxEntSecond, GREEN, 5, {cubicInterpolationMode: 'monotone', order: 3}),
  line(fitTimes, maxEntMean, GREEN, 5, {cubicInterpolationMode: 'monotone', order: 3}),
  line(fitTimes, maxEntLog, GREEN, 5, {cubicInterpolationMode: 'monotone', order: 3})
];
const snapshotColors = ['#5a2fd8', '#3d62dc', '#3cb0e2', '#3fe2d8'];
snapshotTimes.forEach((t, i) => datasetsE.push(
  line([t, t], [2.02, snapshotTop], snapshotColors[i], 2, {borderDash: [7, 4], order: 4})));
[secondRuns, meanRuns, logRuns].forEach(group => group.forEach(r =>
  datasetsE.push(line(runTimes, r, 'rgba(125,125,125,0.5)', 0.9, {order: 6}))));

new Chart(document.getElementById('chartE'), {
  type: 'line',
  data: {datasets: datasetsE},
  options: {
    responsive: false,
    layout: {padding: {top: 12, right: 21, left: 0, bottom: 0}},
    scales: {
      x: axis({min: -0.83, max: 40.85, ticks: ticksE_x, labels: labelsE_x, size: 51, tickPad: 6, title: 't', titlePad: {top: 0, bottom: 0.8}}),
      y: axis({type: 'logarithmic', min: 2.02, max: 52000, ticks: ticksE_y, labels: labelsE_y, size: 95, tickPad: 6, tickSize: 16, title: 'moments of n', titlePad: {top: 26.8, bottom: 0}})
    },
    plugins: {frame: {minorX: 2, logMinorY: true}}
  },
  plugins: [framePlugin]
});
</script>
</body>
</html>
